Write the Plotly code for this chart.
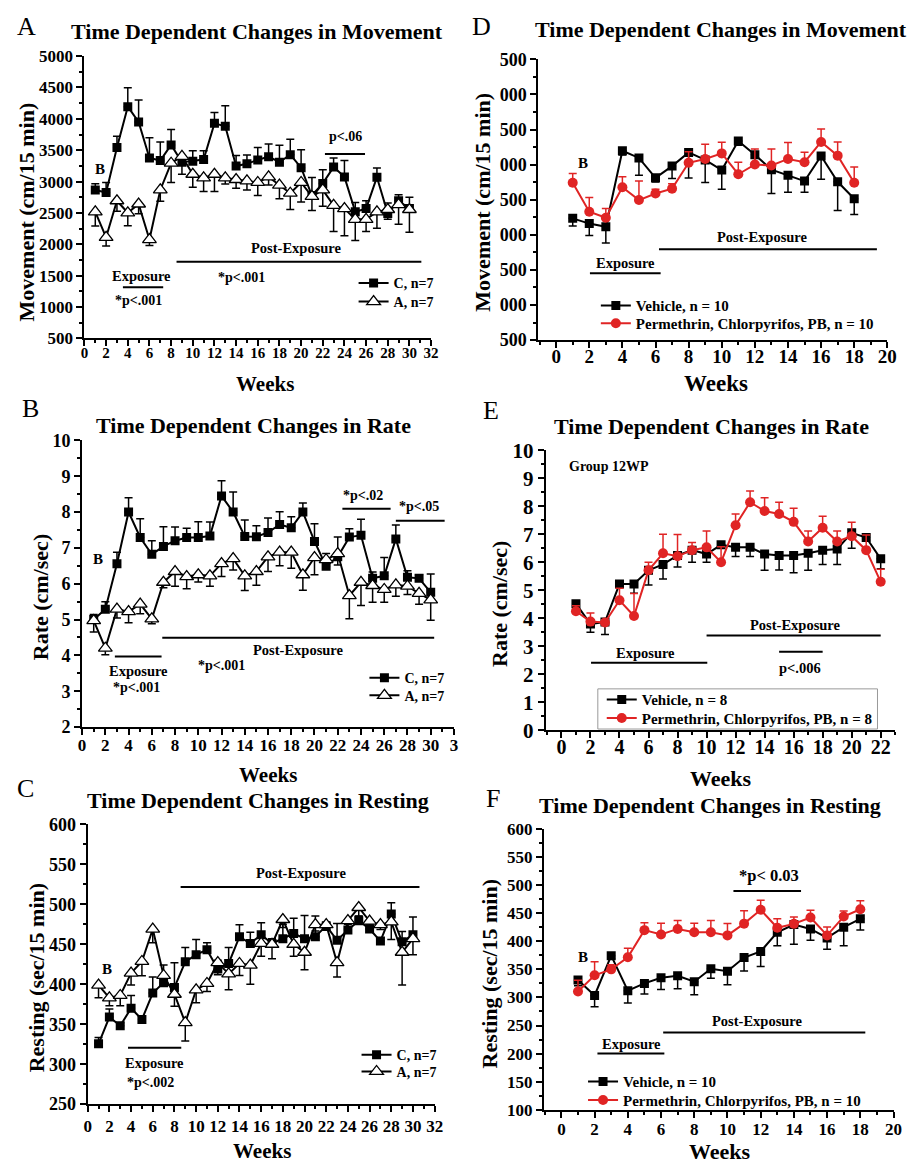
import plotly.graph_objects as go

W, H = 919, 1173
SERIF = "Liberation Serif, Times New Roman, serif"
RED = "#e02424"
BLACK = "black"

# ---------------- data ----------------
WEEKS_30 = list(range(1, 31))
WEEKS_18 = list(range(1, 19))
WEEKS_22 = list(range(1, 23))

# A: movement (cm/15 min), groups C and A
A_C = [2867, 2825, 3543, 4194, 3949, 3377, 3335, 3585, 3309, 3325, 3351, 3928, 3881, 3247, 3283,
       3346, 3397, 3309, 3429, 3221, 2778, 2971, 3231, 3075, 2518, 2570, 3070, 2492, 2695, 2570]
A_C_ERR = [100, 160, 180, 300, 350, 320, 297, 245, 60, 167, 140, 172, 328, 167, 140,
           198, 203, 270, 245, 286, 286, 218, 145, 260, 150, 125, 145, 167, 95, 180]
A_A = [2518, 2112, 2695, 2503, 2643, 2076, 2867, 3293, 3403, 3117, 3059, 3117, 3059, 3033, 3012,
       2986, 3075, 2945, 2815, 2986, 2763, 2867, 2622, 2570, 2398, 2398, 2518, 2555, 2633, 2555]
A_A_ERR = [224, 140, 166, 208, 156, 94, 182, 307, 286, 208, 218, 276, 99, 140, 146,
           208, 130, 218, 260, 312, 224, 260, 416, 432, 338, 192, 260, 156, 312, 364]

# B: rate (cm/sec), groups C and A
B_C = [5.0, 5.29, 6.56, 8.0, 7.29, 6.82, 7.04, 7.2, 7.29, 7.29, 7.33, 8.45, 8.0, 7.32, 7.31,
       7.43, 7.65, 7.56, 8.0, 7.18, 6.49, 6.75, 7.3, 7.35, 6.15, 6.22, 7.25, 6.18, 6.15, 5.76]
B_C_ERR = [0.14, 0.21, 0.32, 0.40, 0.52, 0.38, 0.55, 0.38, 0.26, 0.44, 0.39, 0.42, 0.56, 0.46, 0.31,
           0.40, 0.36, 0.31, 0.25, 0.49, 0.35, 0.55, 0.23, 0.45, 0.18, 0.51, 0.39, 0.18, 0.10, 0.51]
B_A = [4.97, 4.2, 5.29, 5.22, 5.43, 5.02, 6.04, 6.34, 6.2, 6.25, 6.22, 6.56, 6.7, 6.22, 6.34,
       6.75, 6.88, 6.88, 6.25, 6.73, 6.67, 6.84, 5.67, 6.04, 5.95, 5.84, 5.97, 5.93, 5.73, 5.55]
B_A_ERR = [0.32, 0.18, 0.25, 0.31, 0.27, 0.14, 0.15, 0.41, 0.34, 0.20, 0.29, 0.36, 0.32, 0.41, 0.38,
           0.41, 0.38, 0.45, 0.43, 0.48, 0.10, 0.32, 0.65, 0.65, 0.47, 0.36, 0.32, 0.23, 0.30, 0.57]

# C: resting (sec/15 min), groups C and A
C_C = [325.5, 359, 348, 370, 356, 389, 402, 396, 428, 437, 443, 419, 426, 459.5, 451,
       462, 451, 457, 463.5, 457, 459.5, 473, 455, 468, 479.5, 469, 454, 488, 453, 462]
C_C_ERR = [8, 10, 4, 16, 4, 20, 22, 31, 18, 19, 9, 11, 20, 15, 14,
           15, 6, 18, 19, 29, 26, 5, 21, 7, 6, 5, 4, 14, 13, 22]
C_A = [399, 383, 386, 414, 428.5, 469, 411, 387.5, 352, 393, 401, 427, 413, 426, 424,
       451, 450, 481, 450, 440, 474.5, 474.5, 427, 479.5, 496, 479, 474.5, 478, 440, 457]
C_A_ERR = [16, 10, 13, 15, 18, 17, 12, 15, 23, 16, 10, 15, 20, 15, 24,
           16, 18, 10, 15, 22, 8, 7, 18, 10, 11, 10, 6, 22, 41, 20]

# D: movement, vehicle vs permethrin/chlorpyrifos/PB
D_VEH = [2235, 2160, 2114, 3198, 3095, 2812, 2979, 3174, 3067, 2923, 3337, 3142, 2928, 2849, 2765, 3123, 2756, 2514]
D_VEH_ERR = [110, 170, 230, 60, 247, 60, 177, 363, 320, 274, 60, 144, 340, 242, 158, 330, 409, 223]
D_PER = [2742, 2328, 2244, 2677, 2495, 2588, 2658, 3026, 3081, 3160, 2863, 3002, 2988, 3081, 3035, 3323, 3128, 2742]
D_PER_ERR = [130, 205, 130, 149, 270, 60, 70, 158, 209, 158, 172, 219, 233, 233, 140, 186, 195, 223]
D_YTICK_VALS = [500, 1000, 1500, 2000, 2500, 3000, 3500, 4000, 4500]
D_YTICK_TEXT = ["500", "000", "500", "000", "500", "000", "500", "000", "500"]

# E: rate, group 12WP
E_VEH = [4.52, 3.79, 3.87, 5.22, 5.22, 5.71, 5.92, 6.24, 6.43, 6.29, 6.62, 6.53, 6.53, 6.29, 6.24,
         6.24, 6.32, 6.43, 6.47, 7.05, 6.88, 6.12]
E_VEH_ERR = [0.25, 0.29, 0.45, 0.10, 0.33, 0.52, 0.52, 0.41, 0.43, 0.29, 0.10, 0.33, 0.33, 0.58, 0.52,
             0.62, 0.61, 0.51, 0.55, 0.55, 0.10, 0.35]
E_PER = [4.25, 3.88, 3.85, 4.64, 4.08, 5.71, 6.32, 6.21, 6.43, 6.53, 6.0, 7.32, 8.14, 7.83, 7.72,
         7.44, 6.74, 7.23, 6.74, 6.93, 6.43, 5.30]
E_PER_ERR = [0.20, 0.31, 0.10, 0.43, 0.80, 0.29, 0.68, 0.78, 0.27, 0.58, 0.55, 0.40, 0.40, 0.47, 0.42,
             0.49, 0.37, 0.41, 0.37, 0.50, 0.54, 0.45]

# F: resting, vehicle vs permethrin/chlorpyrifos/PB
F_VEH = [331, 303.5, 374.4, 312, 325, 335, 338.4, 328, 351, 346.5, 371, 382, 416, 429.7, 422, 406, 425, 440]
F_VEH_ERR = [10, 20, 5, 22, 19, 21, 23, 23, 17, 24, 24, 27, 24, 35, 20, 20, 33, 20]
F_PER = [310.5, 339.5, 350, 371.5, 419.8, 412, 422, 416, 416, 410.5, 431.4, 456, 424, 431, 442.4, 410.5, 444, 457]
F_PER_ERR = [20, 24, 8, 16, 13, 20, 15, 16, 21, 21, 23, 17, 16, 12, 13, 15, 10, 15]

LEG_C, LEG_A = "C, n=7", "A, n=7"
LEG_VEH = "Vehicle, n = {}"
LEG_PER = "Permethrin, Chlorpyrifos, PB, n = {}"
TITLE_MOV = "Time Dependent Changes in Movement"
TITLE_RATE = "Time Dependent Changes in Rate"
TITLE_REST = "Time Dependent Changes in Resting"
YT_MOV, YT_RATE, YT_REST = "Movement (cm/15 min)", "Rate (cm/sec)", "Resting (sec/15 min)"

# ---------------- panel geometry (pixels) ----------------
PANELS = {
    "A": dict(ax="", box=(81.7, 433.7, 45, 333.3), xr=[0, 32], yr=[500, 5000],
              xd=2, xm=1, yd=500, ym=250, xfs=15, yfs=17, xso=-6),
    "B": dict(ax="2", box=(79.3, 456.9, 437.3, 730), xr=[0, 32], yr=[2, 10],
              xd=2, xm=1, yd=1, ym=0.5, xfs=17, yfs=18, xso=-4),
    "C": dict(ax="3", box=(85, 437.3, 829.3, 1115), xr=[0, 32], yr=[250, 600],
              xd=2, xm=1, yd=50, ym=25, xfs=17, yfs=18, xso=-1),
    "D": dict(ax="4", box=(542.7, 897, 48.3, 335), xr=[-1.07, 20], yr=[500, 4500],
              xd=2, xm=1, yd=500, ym=250, xfs=19, yfs=18, xso=-8),
    "E": dict(ax="5", box=(550, 905, 447.3, 733.3), xr=[-1.09, 23], yr=[0, 10],
              xd=2, xm=1, yd=1, ym=0.5, xfs=20, yfs=21, xso=-8),
    "F": dict(ax="6", box=(548.3, 903.3, 834, 1120.7), xr=[-1.05, 20], yr=[100, 600],
              xd=2, xm=1, yd=50, ym=25, xfs=17, yfs=17, xso=-3),
}


def px(x):
    return x / W


def py(y):
    return 1 - y / H


fig = go.Figure()


def add_series(panel, x, y, err, up, name, legend, kind):
    ax = PANELS[panel]["ax"]
    zeros = [0] * len(err)
    if kind == "square":
        color = BLACK
        marker = dict(symbol="square", size=9, color=BLACK, line=dict(width=0))
    elif kind == "triangle":
        color = BLACK
        marker = dict(symbol="triangle-up", size=12, color="white", line=dict(color=BLACK, width=1.3))
    else:
        color = RED
        marker = dict(symbol="circle", size=10, color=RED, line=dict(width=0))
    fig.add_trace(go.Scatter(
        x=x, y=y, mode="lines+markers", name=name, legend=legend, showlegend=True,
        xaxis="x" + ax, yaxis="y" + ax,
        line=dict(color=color, width=2), marker=marker,
        error_y=dict(type="data", symmetric=False,
                     array=err if up else zeros, arrayminus=zeros if up else err,
                     color=color, thickness=1.5, width=4),
    ))


add_series("A", WEEKS_30, A_C, A_C_ERR, True, LEG_C, "legend", "square")
add_series("A", WEEKS_30, A_A, A_A_ERR, False, LEG_A, "legend2", "triangle")
add_series("B", WEEKS_30, B_C, B_C_ERR, True, LEG_C, "legend3", "square")
add_series("B", WEEKS_30, B_A, B_A_ERR, False, LEG_A, "legend4", "triangle")
add_series("C", WEEKS_30, C_C, C_C_ERR, True, LEG_C, "legend5", "square")
add_series("C", WEEKS_30, C_A, C_A_ERR, False, LEG_A, "legend6", "triangle")
add_series("D", WEEKS_18, D_VEH, D_VEH_ERR, False, LEG_VEH.format(10), "legend7", "square")
add_series("D", WEEKS_18, D_PER, D_PER_ERR, True, LEG_PER.format(10), "legend8", "circle")
add_series("E", WEEKS_22, E_VEH, E_VEH_ERR, False, LEG_VEH.format(8), "legend9", "square")
add_series("E", WEEKS_22, E_PER, E_PER_ERR, True, LEG_PER.format(8), "legend10", "circle")
add_series("F", WEEKS_18, F_VEH, F_VEH_ERR, False, LEG_VEH.format(10), "legend11", "square")
add_series("F", WEEKS_18, F_PER, F_PER_ERR, True, LEG_PER.format(10), "legend12", "circle")

layout = dict(
    width=W, height=H, margin=dict(l=0, r=0, t=0, b=0),
    paper_bgcolor="white", plot_bgcolor="white", showlegend=True,
    font=dict(family=SERIF, color="black"),
)


def tick_font(size):
    return dict(family=SERIF, size=size, color="black", weight="bold")


for key, p in PANELS.items():
    l, r, t, b = p["box"]
    ax = p["ax"]
    common = dict(showline=True, linecolor=BLACK, linewidth=2, ticks="outside", ticklen=6,
                  tickwidth=1.5, tickcolor=BLACK, showgrid=False, zeroline=False)
    xa = dict(common, domain=[px(l), px(r)], range=p["xr"], anchor="y" + ax,
              tick0=0, dtick=p["xd"], tickfont=tick_font(p["xfs"]), ticklabelstandoff=p["xso"],
              minor=dict(dtick=p["xm"], ticks="outside", ticklen=3, tickwidth=1.5, tickcolor=BLACK))
    ya = dict(common, domain=[py(b), py(t)], range=p["yr"], anchor="x" + ax,
              tick0=p["yr"][0], dtick=p["yd"], tickfont=tick_font(p["yfs"]),
              minor=dict(dtick=p["ym"], ticks="outside", ticklen=3, tickwidth=1.5, tickcolor=BLACK))
    layout["xaxis" + ax] = xa
    layout["yaxis" + ax] = ya

layout["xaxis2"].update(tickmode="array", tickvals=list(range(0, 33, 2)),
                        ticktext=[str(v) for v in range(0, 31, 2)] + ["3"])
layout["yaxis4"].update(tickmode="array", tickvals=D_YTICK_VALS, ticktext=D_YTICK_TEXT)

fig.update_layout(**layout)

# ---------------- text in paper coordinates ----------------
PAPER_TEXT = [
    # panel letters
    ("A", 23, 15, 26, False, 0), ("B", 27, 405, 26, False, 0), ("C", 22, 793, 26, False, 0),
    ("D", 485, 15, 26, False, 0), ("E", 495, 407, 26, False, 0), ("F", 497, 803, 26, False, 0),
    # titles
    (TITLE_MOV, 257, 20, 22, True, 0), (TITLE_RATE, 253, 422, 22, True, 0),
    (TITLE_REST, 258, 805, 22, True, 0), (TITLE_MOV, 728, 18, 22, True, 0),
    (TITLE_RATE, 718, 423, 22, True, 0), (TITLE_REST, 717, 810, 22, True, 0),
    # axis titles
    ("Weeks", 265, 380, 21, True, 0), ("Weeks", 268, 779, 21, True, 0),
    ("Weeks", 262, 1163, 21, True, 0), ("Weeks", 723, 379, 23, True, 0),
    ("Weeks", 728, 783, 22, True, 0), ("Weeks", 727, 1163, 22, True, 0),
    (YT_MOV, 23, 204, 22, True, -90), (YT_RATE, 37, 597, 22, True, -90),
    (YT_REST, 33, 986, 22, True, -90), (YT_MOV, 485, 194, 22, True, -90),
    (YT_RATE, 503, 604, 22, True, -90), (YT_REST, 493, 982, 22, True, -90),
]

annotations = []
for text, x, y, size, bold, angle in PAPER_TEXT:
    annotations.append(dict(
        text=text, x=px(x), y=py(y), xref="paper", yref="paper", showarrow=False,
        xanchor="center", yanchor="middle", textangle=angle,
        font=dict(family=SERIF, size=size, color="black", weight="bold" if bold else "normal"),
    ))

# ---------------- labels and period bars in data coordinates ----------------
DATA_TEXT = {
    "A": [("B", 1.4, 3205, 15), ("p<.06", 24.1, 3725, 14), ("Post-Exposure", 19.6, 1935, 14.5),
          ("*p<.001", 14.5, 1478, 14), ("Exposure", 5.3, 1498, 14.5), ("*p<.001", 5.0, 1098, 14)],
    "B": [("B", 1.38, 6.70, 15), ("*p<.02", 24.2, 8.47, 14), ("*p<.05", 29.0, 8.15, 14),
          ("Post-Exposure", 18.6, 4.14, 14.5), ("*p<.001", 12.0, 3.73, 14),
          ("Exposure", 4.86, 3.56, 14.5), ("*p<.001", 4.72, 3.11, 14)],
    "C": [("B", 1.76, 418.6, 15), ("Post-Exposure", 19.7, 539.5, 14.5),
          ("Exposure", 6.2, 301, 14.5), ("*p<.002", 5.75, 277.7, 14)],
    "D": [("B", 1.65, 3026, 15), ("Post-Exposure", 12.46, 1974, 14.5), ("Exposure", 4.17, 1593, 14.5)],
    "E": [("Group 12WP", 3.3, 9.42, 14), ("Post-Exposure", 16.1, 3.75, 14.5),
          ("Exposure", 5.82, 2.76, 14.5), ("p<.006", 16.45, 2.21, 14.5)],
    "F": [("*p< 0.03", 12.49, 516.9, 16.5), ("B", 1.32, 372.7, 15),
          ("Post-Exposure", 11.8, 258, 14.5), ("Exposure", 4.25, 217, 14.5)],
}
BARS = {
    "A": [(22.2, 25.9, 3440), (8.5, 31.1, 1722), (3.55, 7.27, 1316)],
    "B": [(22.4, 26.55, 8.09), (27.0, 31.2, 7.76), (6.9, 30.3, 4.49), (2.82, 6.84, 3.97)],
    "C": [(8.57, 30.6, 521.6), (3.72, 8.63, 320.6)],
    "D": [(6.21, 19.37, 1793), (2.04, 6.31, 1453)],
    "E": [(10.0, 22.0, 3.38), (2.04, 10.05, 2.41), (15.0, 18.0, 2.80)],
    "F": [(10.36, 14.43, 489.5), (6.13, 18.3, 237.8), (2.17, 6.2, 200)],
}

shapes = []
for key, items in DATA_TEXT.items():
    ax = PANELS[key]["ax"]
    for text, x, y, size in items:
        annotations.append(dict(
            text=text, x=x, y=y, xref="x" + ax, yref="y" + ax, showarrow=False,
            xanchor="center", yanchor="middle",
            font=dict(family=SERIF, size=size, color="black", weight="bold"),
        ))
for key, items in BARS.items():
    ax = PANELS[key]["ax"]
    for x0, x1, y in items:
        shapes.append(dict(type="line", xref="x" + ax, yref="y" + ax, x0=x0, x1=x1, y0=y, y1=y,
                           line=dict(color=BLACK, width=2)))

# framed key of panel E
shapes.append(dict(type="rect", xref="paper", yref="paper",
                   x0=px(603), x1=px(887), y0=py(732), y1=py(691),
                   line=dict(color="#999999", width=1)))

fig.update_layout(annotations=annotations, shapes=shapes)

# ---------------- legends: one entry each, centred on its row ----------------
LEGEND_POS = {
    "legend": (355, 277, 14), "legend2": (355, 296, 14),
    "legend3": (366, 680, 14), "legend4": (366, 698, 14),
    "legend5": (358, 1065, 14), "legend6": (358, 1082, 14),
    "legend7": (601, 300, 15), "legend8": (601, 318, 15),
    "legend9": (607, 702, 15), "legend10": (607, 721, 15),
    "legend11": (588, 1092, 15), "legend12": (588, 1111, 15),
}
for name, (x, y, size) in LEGEND_POS.items():
    fig.update_layout(**{name: dict(
        x=px(x), y=py(y), xanchor="left", yanchor="middle", bgcolor="rgba(0,0,0,0)",
        borderwidth=0, font=dict(family=SERIF, size=size, color="black", weight="bold"),
    )})

fig.write_html("out.html")
